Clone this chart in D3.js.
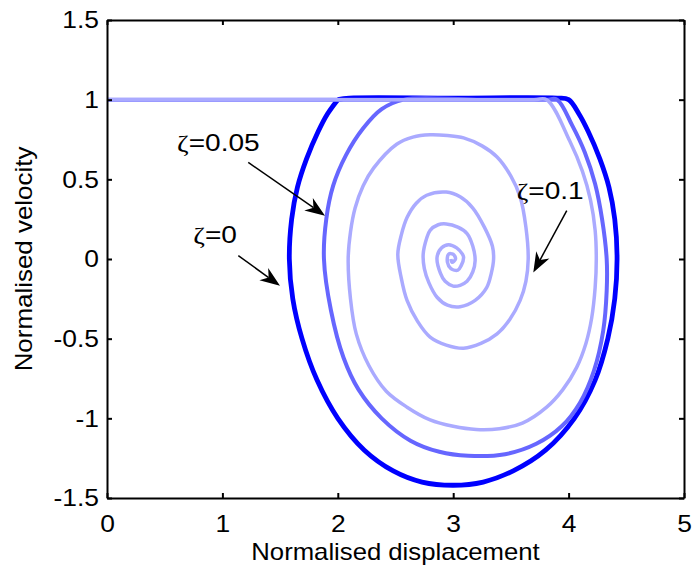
<!DOCTYPE html>
<html>
<head>
<meta charset="utf-8">
<script src="https://cdn.jsdelivr.net/npm/d3@7"></script>
<style>
  body { margin: 0; background: #fff; }
  svg { display: block; }
  text { font-family: "Liberation Sans", Arial, sans-serif; }
</style>
</head>
<body>
<svg id="chart" width="695" height="574"></svg>
<script>
// tick values and labels
const xTicks = [0, 1, 2, 3, 4, 5];
const xTickLabels = ["0", "1", "2", "3", "4", "5"];
const yTicks = [-1.5, -1, -0.5, 0, 0.5, 1, 1.5];
const yTickLabels = ["-1.5", "-1", "-0.5", "0", "0.5", "1", "1.5"];

// series: [displacement, velocity]
const zeta0 = [
  [2.0, 1.0], [2.1, 1.01], [3.0, 1.01], [3.9, 1.01], [4.0, 1.0],
  [4.09, 0.91], [4.17, 0.8], [4.27, 0.63], [4.35, 0.45], [4.4, 0.25], [4.42, 0],
  [4.4, -0.25], [4.34, -0.5], [4.23, -0.76], [4.05, -1.0], [3.8, -1.2], [3.52, -1.33],
  [3.26, -1.4], [3.0, -1.42], [2.73, -1.4], [2.48, -1.33], [2.23, -1.2], [2.0, -1.0],
  [1.82, -0.76], [1.69, -0.5], [1.61, -0.25], [1.58, 0], [1.6, 0.25], [1.65, 0.45],
  [1.73, 0.63], [1.83, 0.8], [1.91, 0.91], [2.0, 1.0]
];
const zeta005 = [
  [0, 1], [2.0, 1], [3.8, 1], [3.9, 1.0],
  [4.03, 0.84], [4.14, 0.67], [4.23, 0.47], [4.29, 0.25], [4.33, 0], [4.33, -0.2],
  [4.3, -0.45], [4.22, -0.7], [4.1, -0.9], [3.94, -1.05], [3.72, -1.16], [3.45, -1.225],
  [3.13, -1.235], [2.88, -1.21], [2.63, -1.14], [2.38, -1.0], [2.18, -0.82], [2.05, -0.62],
  [1.94, -0.32], [1.88, 0], [1.9, 0.25], [1.96, 0.46], [2.07, 0.65], [2.22, 0.82],
  [2.38, 0.94], [2.57, 1.0], [3.2, 1.0], [3.9, 1.0]
];
const zeta01 = [
  [0, 1], [2.0, 1], [3.7, 1], [3.81, 1],
  [4.01, 0.74], [4.12, 0.55], [4.19, 0.37], [4.23, 0.18], [4.24, 0], [4.23, -0.18],
  [4.2, -0.37], [4.15, -0.53], [4.07, -0.68], [3.95, -0.82], [3.81, -0.93], [3.6, -1.03],
  [3.4, -1.065], [3.2, -1.07], [3.0, -1.05], [2.8, -1.01], [2.6, -0.93], [2.42, -0.83],
  [2.27, -0.67], [2.16, -0.47], [2.11, -0.25], [2.09, 0], [2.11, 0.17], [2.15, 0.32],
  [2.22, 0.46], [2.31, 0.57], [2.51, 0.72], [2.65, 0.765], [2.8, 0.78], [2.95, 0.775],
  [3.09, 0.76], [3.25, 0.71], [3.38, 0.64], [3.5, 0.52], [3.58, 0.39], [3.63, 0.2],
  [3.65, 0], [3.63, -0.14], [3.58, -0.26], [3.49, -0.38], [3.38, -0.47], [3.24, -0.53],
  [3.09, -0.56], [2.94, -0.54], [2.8, -0.49], [2.69, -0.39], [2.6, -0.26], [2.55, -0.12],
  [2.52, 0.03], [2.55, 0.15], [2.6, 0.26], [2.68, 0.35], [2.77, 0.4], [2.94, 0.42],
  [3.06, 0.39], [3.17, 0.32], [3.27, 0.2], [3.34, 0.08], [3.35, 0.0], [3.33, -0.09],
  [3.29, -0.18], [3.19, -0.26], [3.06, -0.3], [2.95, -0.29], [2.86, -0.24], [2.79, -0.15],
  [2.75, -0.06], [2.74, 0.03], [2.77, 0.13], [2.8, 0.18], [2.87, 0.215], [2.94, 0.22],
  [3.04, 0.2], [3.12, 0.16], [3.17, 0.08], [3.19, -0.01], [3.17, -0.08], [3.12, -0.14],
  [3.06, -0.165], [3.0, -0.17], [2.93, -0.14], [2.89, -0.09], [2.86, 0.01], [2.9, 0.07],
  [2.96, 0.09], [3.03, 0.07], [3.08, 0.03], [3.09, 0.01], [3.07, -0.04], [3.04, -0.07],
  [2.98, -0.06], [2.95, -0.02], [2.96, 0.03], [3.0, 0.03], [3.02, 0.0], [2.99, -0.02], [2.98, 0.0]
];

// annotation labels: text anchor, arrow tail, arrow tip (data units)
const noteLabels = ["0.05", "0", "0.1"];
const noteText = [[0.607, 0.68], [0.748, 0.102], [3.55, 0.378]];
const noteTail = [[1.224, 0.606], [1.138, 0.021], [3.984, 0.303]];
const noteTip = [[1.889, 0.272], [1.499, -0.168], [3.694, -0.084]];

const svg = d3.select("#chart");
const margin = { top: 20, right: 11, bottom: 76, left: 107 };
const W = 695 - margin.left - margin.right;
const H = 574 - margin.top - margin.bottom;

const x = d3.scaleLinear().domain([0, 5]).range([0, W]);
const y = d3.scaleLinear().domain([-1.5, 1.5]).range([H, 0]);

const g = svg.append("g").attr("transform", `translate(${margin.left},${margin.top})`);

// text in the picture runs a little wider than Liberation Sans at this size
function widen(sel, k) {
  sel.each(function () {
    const w = this.getComputedTextLength();
    d3.select(this).attr("textLength", w * k).attr("lengthAdjust", "spacingAndGlyphs");
  });
}

const line = d3.line()
  .x(d => x(d[0]))
  .y(d => y(d[1]))
  .curve(d3.curveCatmullRom.alpha(0.5));

const series = [
  { data: zeta0, color: "#0000ff", width: 4.8 },
  { data: zeta005, color: "#6666ff", width: 4 },
  { data: zeta01, color: "#aaaaff", width: 3.5 }
];

g.selectAll("path.series")
  .data(series)
  .join("path")
  .attr("class", "series")
  .attr("fill", "none")
  .attr("stroke", d => d.color)
  .attr("stroke-width", d => d.width)
  .attr("stroke-linejoin", "round")
  .attr("stroke-linecap", "butt")
  .attr("d", d => line(d.data));

// axes, ticks inward on all four sides
const fmtX = (d, i) => xTickLabels[i];
const fmtY = (d, i) => yTickLabels[i];

const axB = g.append("g").attr("transform", `translate(0,${H})`)
  .call(d3.axisBottom(x).tickValues(xTicks).tickFormat(fmtX).tickSizeInner(-5).tickSizeOuter(0).tickPadding(17));
const axL = g.append("g")
  .call(d3.axisLeft(y).tickValues(yTicks).tickFormat(fmtY).tickSizeInner(-5).tickSizeOuter(0).tickPadding(8));
const axT = g.append("g")
  .call(d3.axisTop(x).tickValues(xTicks).tickFormat("").tickSizeInner(-5).tickSizeOuter(0));
const axR = g.append("g").attr("transform", `translate(${W},0)`)
  .call(d3.axisRight(y).tickValues(yTicks).tickFormat("").tickSizeInner(-5).tickSizeOuter(0));

[axB, axL, axT, axR].forEach(a => {
  a.select(".domain").attr("stroke", "#000").attr("stroke-width", 2);
  a.selectAll(".tick line").attr("stroke", "#000").attr("stroke-width", 2);
  a.selectAll(".tick text")
    .attr("fill", "#000")
    .style("font-family", "'Liberation Sans', Arial, sans-serif")
    .style("font-size", "24px");
});
widen(axB.selectAll(".tick text"), 1.1);
widen(axL.selectAll(".tick text"), 1.1);

// axis titles
svg.append("text")
  .attr("x", margin.left + W / 2)
  .attr("y", 560)
  .attr("text-anchor", "middle")
  .style("font-size", "24px")
  .attr("fill", "#000")
  .text("Normalised displacement")
  .call(widen, 1.07);

svg.append("text")
  .attr("transform", `translate(32,${margin.top + H / 2}) rotate(-90)`)
  .attr("text-anchor", "middle")
  .style("font-size", "24px")
  .attr("fill", "#000")
  .text("Normalised velocity")
  .call(widen, 1.08);

// annotations
const notes = noteLabels.map((t, i) => ({ t, at: noteText[i], tail: noteTail[i], tip: noteTip[i] }));

notes.forEach(n => {
  const tx = g.append("text")
    .attr("x", x(n.at[0]))
    .attr("y", y(n.at[1]))
    .style("font-size", "24px")
    .attr("fill", "#000");
  tx.append("tspan").style("font-family", "'Liberation Serif', 'DejaVu Serif', serif").text("\u03b6");
  tx.append("tspan").text("=" + n.t);
  widen(tx, 1.17);

  const x0 = x(n.tail[0]), y0 = y(n.tail[1]);
  const x1 = x(n.tip[0]), y1 = y(n.tip[1]);
  const ang = Math.atan2(y1 - y0, x1 - x0);
  const len = 20, half = 7.5, notch = 14;
  const ux = Math.cos(ang), uy = Math.sin(ang);
  const px = -uy, py = ux;

  g.append("line")
    .attr("x1", x0).attr("y1", y0)
    .attr("x2", x1 - ux * notch).attr("y2", y1 - uy * notch)
    .attr("stroke", "#000")
    .attr("stroke-width", 1.5);

  const head = d3.path();
  head.moveTo(x1, y1);
  head.lineTo(x1 - ux * len + px * half, y1 - uy * len + py * half);
  head.lineTo(x1 - ux * notch, y1 - uy * notch);
  head.lineTo(x1 - ux * len - px * half, y1 - uy * len - py * half);
  head.closePath();
  g.append("path").attr("d", head.toString()).attr("fill", "#000");
});
</script>
</body>
</html>
